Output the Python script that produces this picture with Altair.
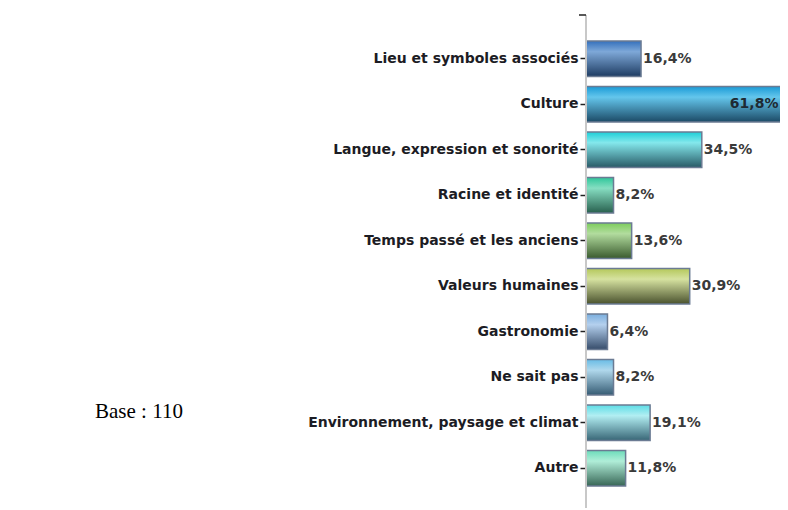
import altair as alt
import pandas as pd

categories = [
    "Lieu et symboles associés",
    "Culture",
    "Langue, expression et sonorité",
    "Racine et identité",
    "Temps passé et les anciens",
    "Valeurs humaines",
    "Gastronomie",
    "Ne sait pas",
    "Environnement, paysage et climat",
    "Autre",
]
values = [16.4, 61.8, 34.5, 8.2, 13.6, 30.9, 6.4, 8.2, 19.1, 11.8]
labels = ["16,4%", "61,8%", "34,5%", "8,2%", "13,6%", "30,9%", "6,4%", "8,2%", "19,1%", "11,8%"]

# gradient colours (top, highlight, bottom) per bar
grad_top = ["#3470bc", "#1a9ad6", "#1ccfd8", "#2ec69a", "#7ccc5c", "#b4c85a", "#7aaede", "#68bce6", "#5cdde6", "#6cdcba"]
grad_mid = ["#7ea8d8", "#64c6ec", "#84e8ec", "#86dec2", "#b2dc9e", "#d6e2a0", "#b4d0ee", "#b0d8ec", "#b2eef2", "#b0eed8"]
grad_bot = ["#1e3c62", "#1c4a66", "#285a66", "#28604e", "#3a5a2e", "#4a522e", "#364c6a", "#365c74", "#386676", "#386656"]

df = pd.DataFrame({"cat": categories, "value": values, "label": labels})

H = 455
W = 194
XMAX = 57.8
FONT = "DejaVu Sans"

y_enc = alt.Y(
    "cat:N",
    sort=categories,
    scale=alt.Scale(paddingInner=0.22, paddingOuter=0.11),
    axis=alt.Axis(
        title=None,
        domain=False,
        ticks=True,
        tickSize=6,
        tickWidth=1.5,
        tickColor="#222222",
        labelFont=FONT,
        labelFontSize=14,
        labelFontWeight="bold",
        labelColor="#1c1c24",
        labelPadding=2,
        labelLimit=400,
        grid=False,
    ),
)
x_enc = alt.X("value:Q", scale=alt.Scale(domain=[0, XMAX]), axis=None)

base = alt.Chart(df)

layers = []
for i, c in enumerate(categories):
    grad = alt.Gradient(
        gradient="linear",
        x1=0, x2=0, y1=0, y2=1,
        stops=[
            alt.GradientStop(color=grad_top[i], offset=0),
            alt.GradientStop(color=grad_mid[i], offset=0.3),
            alt.GradientStop(color=grad_bot[i], offset=1),
        ],
    )
    layers.append(
        base.transform_filter(alt.datum.cat == c)
        .mark_bar(fill=grad, stroke="#6b7b93", strokeWidth=1.5, clip=True)
        .encode(y=y_enc, x=x_enc)
    )

text_out = base.transform_filter(alt.datum.value < 50).mark_text(
    align="left", baseline="middle", dx=2, font=FONT, fontSize=14, fontWeight="bold",
    color="#3a3a3a", clip=True
).encode(y=y_enc, x=x_enc, text="label:N")

text_in = base.transform_filter(alt.datum.value >= 50).mark_text(
    align="right", baseline="middle", dx=-15, font=FONT, fontSize=14, fontWeight="bold",
    color="#1e2a33", clip=True
).encode(y=y_enc, x=x_enc, text="label:N")

axis_line = alt.Chart(pd.DataFrame({"a": [0]})).mark_rule(color="#c8c8c8", strokeWidth=2).encode(
    x=alt.value(0), y=alt.value(-21), y2=alt.value(H + 30)
)
top_tick = alt.Chart(pd.DataFrame({"a": [0]})).mark_rule(color="#222222", strokeWidth=1.5).encode(
    x=alt.value(-7), x2=alt.value(0), y=alt.value(-21)
)
base_text = alt.Chart(pd.DataFrame({"t": ["Base : 110"]})).mark_text(
    align="left", baseline="middle", font="Liberation Serif", fontSize=21, color="#000000"
).encode(x=alt.value(-491), y=alt.value(376), text="t:N")

chart = alt.layer(*layers, text_out, text_in, axis_line, top_tick, base_text).properties(
    width=W,
    height=H,
    autosize=alt.AutoSizeParams(type="none"),
    padding={"left": 578, "top": 28, "right": 0, "bottom": 17},
).configure(background="white").configure_view(stroke=None)

chart.save("out.html", embed_options={"renderer": "svg", "actions": False})
